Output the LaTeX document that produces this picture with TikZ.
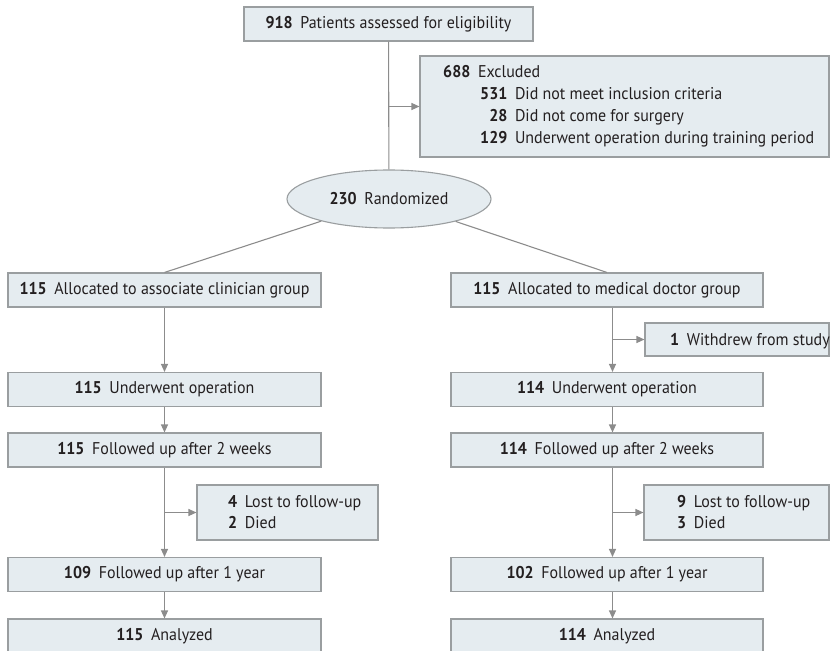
\documentclass[tikz,border=0pt]{standalone}
\usepackage{fontspec}
\setmainfont{PT Sans}[FakeStretch=0.94]
\usetikzlibrary{arrows.meta,shapes.geometric}
\definecolor{boxfill}{HTML}{E5ECF0}
\definecolor{boxline}{HTML}{9A9EA0}
\definecolor{conncol}{HTML}{8C8C8C}
\definecolor{txt}{HTML}{231F20}
\newcommand{\nb}[1]{\textbf{#1}\hspace{0.45em}}
\begin{document}
\begin{tikzpicture}[x=1bp,y=-1bp,
  box/.style={draw=boxline, fill=boxfill, line width=1.1bp, inner sep=0pt, text=txt, font=\fontsize{17bp}{21.7bp}\selectfont},
  lbl/.style={inner sep=0pt, text=txt, font=\fontsize{17bp}{21.7bp}\selectfont},
  conn/.style={draw=conncol, line width=1.1bp},
  arr/.style={conn, -{Triangle[length=8bp,width=7bp]}},
  lcol/.style={box, minimum width=313bp, minimum height=34bp},
  rcol/.style={box, minimum width=312bp, minimum height=34bp}
]
\useasboundingbox (0,0) rectangle (830,651);
% top
\node[box, minimum width=289bp, minimum height=34bp] (top) at (388.5,24) {\nb{918}Patients assessed for eligibility};
\node[box, minimum width=409bp, minimum height=101bp] (excl) at (624.5,106.5) {};
\node[lbl, anchor=base west] (exlist) at (443,78) {\begin{tabular}[t]{@{}r@{\hspace{0.45em}}l@{}}
\multicolumn{2}{@{}l@{}}{\nb{688}Excluded}\\
\hspace{37bp}\textbf{531} & Did not meet inclusion criteria\\
\textbf{28} & Did not come for surgery\\
\textbf{129} & Underwent operation during training period
\end{tabular}};
\node[box, ellipse, minimum width=204bp, minimum height=58bp] (rand) at (389,199) {\nb{230}Randomized};
% left column
\node[lcol] (al) at (164.5,290) {\nb{115}Allocated to associate clinician group};
\node[lcol] (ul) at (164.5,389.5) {\nb{115}Underwent operation};
\node[lcol] (fl) at (164.5,450) {\nb{115}Followed up after 2 weeks};
\node[box, minimum width=181bp, minimum height=55bp] (lostl) at (287.5,512.5) {};
\node[lbl, anchor=base west] (lostlt) at (228,507) {\begin{tabular}[t]{@{}l@{}}\nb{4}Lost to follow-up\\ \nb{2}Died\end{tabular}};
\node[lcol] (yl) at (164.5,574.5) {\nb{109}Followed up after 1 year};
\node[lcol] (anl) at (164.5,636) {\nb{115}Analyzed};
% right column
\node[rcol] (ar) at (607,290) {\nb{115}Allocated to medical doctor group};
\node[box, minimum width=184bp, minimum height=33bp] (wd) at (737,339.5) {};
\node[lbl, anchor=base west] (wdt) at (670,345) {\nb{1}Withdrew from study};
\node[rcol] (ur) at (607,389.5) {\nb{114}Underwent operation};
\node[rcol] (fr) at (607,450) {\nb{114}Followed up after 2 weeks};
\node[box, minimum width=185bp, minimum height=55bp] (lostr) at (736.5,512.5) {};
\node[lbl, anchor=base west] (lostrt) at (677,507) {\begin{tabular}[t]{@{}l@{}}\nb{9}Lost to follow-up\\ \nb{3}Died\end{tabular}};
\node[rcol] (yr) at (607,574.5) {\nb{102}Followed up after 1 year};
\node[rcol] (anr) at (607,636) {\nb{114}Analyzed};
\coordinate (rx) at (612.5,0);
% connectors
\draw[conn] (top) -- (rand);
\draw[arr] (top.south |- excl.west) -- (excl.west);
\draw[conn] (rand) -- (al.north);
\draw[conn] (rand) -- (ar.north);
\draw[arr] (al) -- (ul);
\draw[arr] (ul) -- (fl);
\draw[arr] (fl) -- (yl);
\draw[arr] (fl.south |- lostl.west) -- (lostl.west);
\draw[arr] (yl) -- (anl);
\draw[arr] (ar.south -| rx) -- (ur.north -| rx);
\draw[arr] (wd.west -| rx) -- (wd.west);
\draw[arr] (ur.south -| rx) -- (fr.north -| rx);
\draw[arr] (fr.south -| rx) -- (yr.north -| rx);
\draw[arr] (lostr.west -| rx) -- (lostr.west);
\draw[arr] (yr.south -| rx) -- (anr.north -| rx);
\end{tikzpicture}
\end{document}
